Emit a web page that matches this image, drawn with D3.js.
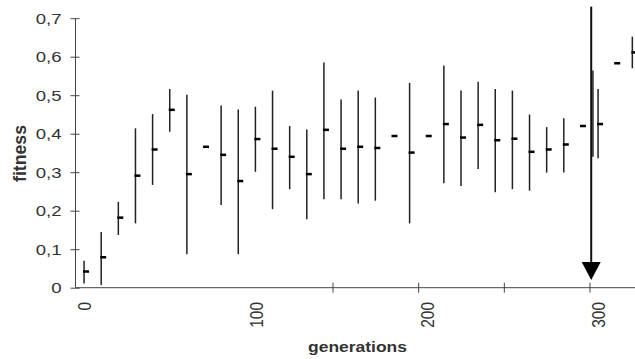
<!DOCTYPE html>
<html>
<head>
<meta charset="utf-8">
<script src="https://cdn.jsdelivr.net/npm/d3@7"></script>
<style>
  html, body { margin: 0; padding: 0; background: #fff; }
  svg { display: block; }
  text { font-family: "Liberation Sans", Arial, Helvetica, sans-serif; fill: #333; }
</style>
</head>
<body>
<script>
// ---- data ----
const generations = [5,15,25,35,45,55,65,75,85,95,105,115,125,135,145,155,165,175,185,195,205,215,225,235,245,255,265,275,285,295,302,305,315,325];
const means = [0.042,0.079,0.182,0.291,0.359,0.462,0.295,0.366,0.345,0.277,0.386,0.361,0.340,0.295,0.410,0.361,0.366,0.363,0.394,0.351,0.394,0.425,0.390,0.423,0.383,0.387,0.353,0.359,0.372,0.420,null,0.425,0.583,0.611];
const lows  = [0.011,0.007,0.137,0.167,0.267,0.405,0.087,null,0.215,0.087,0.301,0.204,0.256,0.178,0.230,0.230,0.219,0.226,null,0.167,null,0.271,0.264,0.308,0.248,0.256,0.252,0.299,0.299,null,0.340,0.336,null,0.570];
const highs = [0.070,0.145,0.223,0.414,0.451,0.516,0.501,null,0.473,0.463,0.470,0.512,0.420,0.411,0.585,0.489,0.512,0.494,null,0.532,null,0.577,0.512,0.535,0.516,0.512,0.450,0.417,0.440,null,0.564,0.516,null,0.652];

const yTickValues = [0,0.1,0.2,0.3,0.4,0.5,0.6,0.7];
const yTickLabels = ["0","0,1","0,2","0,3","0,4","0,5","0,6","0,7"];
const xTickValues = [150,200,250,300];
const xLabelValues = [0,100,200,300];
const xLabelTexts = ["0","100","200","300"];
const xAxisEnd = 340;

// annotation arrow (generation, top value, head base value, tip value)
const arrowGen = [301];
const arrowTop = [0.73];
const arrowHeadBase = [0.067];
const arrowTip = [0.02];

const yTitle = "fitness";
const xTitle = "generations";

// ---- drawing ----
const W = 635, H = 359;
const svg = d3.select("body").append("svg").attr("width", W).attr("height", H);

const x = d3.scaleLinear().domain([0, 300]).range([75.5, 589.5]);
const y = d3.scaleLinear().domain([0, 0.7]).range([287.7, 18.2]);

const axisColor = "#444";

// Y axis
const gy = svg.append("g").attr("transform", `translate(${x(0)},0)`)
  .call(d3.axisLeft(y).tickValues(yTickValues).tickSize(5).tickFormat(""));
gy.select(".domain").remove();
gy.selectAll(".tick line").attr("x1", -5).attr("x2", 4).attr("stroke", axisColor);
gy.append("line").attr("x1", 0).attr("x2", 0).attr("y1", y(0.7)).attr("y2", y(0)).attr("stroke", axisColor);

svg.append("g").selectAll("text").data(yTickValues).join("text")
  .attr("transform", d => `translate(${x(0) - 14},${y(d)}) scale(1.2,1)`)
  .attr("text-anchor", "end")
  .attr("dy", "0.36em")
  .style("font-size", "15.5px")
  .text((d, i) => yTickLabels[i]);

// X axis
const gx = svg.append("g").attr("transform", `translate(0,${y(0)})`)
  .call(d3.axisBottom(x).tickValues(xTickValues).tickSize(5).tickFormat(""));
gx.select(".domain").remove();
gx.selectAll(".tick line").attr("y1", -5).attr("y2", 5).attr("stroke", axisColor);
gx.append("line").attr("x1", x(0)).attr("x2", x(xAxisEnd)).attr("y1", 0).attr("y2", 0).attr("stroke", axisColor);

svg.append("g").selectAll("text").data(xLabelValues).join("text")
  .attr("transform", d => `translate(${x(d) + 9},302) scale(1.2,1) rotate(-90)`)
  .attr("text-anchor", "end")
  .attr("dy", "0.36em")
  .style("font-size", "15.5px")
  .text((d, i) => xLabelTexts[i]);

// axis titles
svg.append("text")
  .attr("transform", `translate(26,153.5) scale(1.2,1) rotate(-90)`)
  .attr("text-anchor", "middle")
  .attr("textLength", 57).attr("lengthAdjust", "spacingAndGlyphs")
  .style("font-size", "15px").style("font-weight", "bold")
  .text(yTitle);

svg.append("text")
  .attr("transform", `translate(357.5,352) scale(1.2,1)`)
  .attr("text-anchor", "middle")
  .attr("textLength", 82.5).attr("lengthAdjust", "spacingAndGlyphs")
  .style("font-size", "15px").style("font-weight", "bold")
  .text(xTitle);

// data rows
const rows = generations.map((g, i) => ({ g, m: means[i], lo: lows[i], hi: highs[i] }));

// arrow
arrowGen.forEach((g, i) => {
  svg.append("line")
    .attr("x1", x(g)).attr("x2", x(g))
    .attr("y1", y(arrowTop[i])).attr("y2", y(arrowHeadBase[i]))
    .attr("stroke", "#111").attr("stroke-width", 2);
  const hw = 9.5;
  svg.append("path")
    .attr("d", `M${x(g) - hw},${y(arrowHeadBase[i])} L${x(g) + hw},${y(arrowHeadBase[i])} L${x(g)},${y(arrowTip[i])} Z`)
    .attr("fill", "#000");
});

// whiskers
svg.append("g").selectAll("line").data(rows.filter(d => d.lo != null && d.hi != null)).join("line")
  .attr("x1", d => x(d.g)).attr("x2", d => x(d.g))
  .attr("y1", d => y(d.hi)).attr("y2", d => y(d.lo))
  .attr("stroke", "#222").attr("stroke-width", 1.5);

// mean markers
svg.append("g").selectAll("rect").data(rows.filter(d => d.m != null)).join("rect")
  .attr("x", d => x(d.g) - 1)
  .attr("y", d => y(d.m) - 1.25)
  .attr("width", 6).attr("height", 2.5)
  .attr("fill", "#000");
</script>
</body>
</html>
